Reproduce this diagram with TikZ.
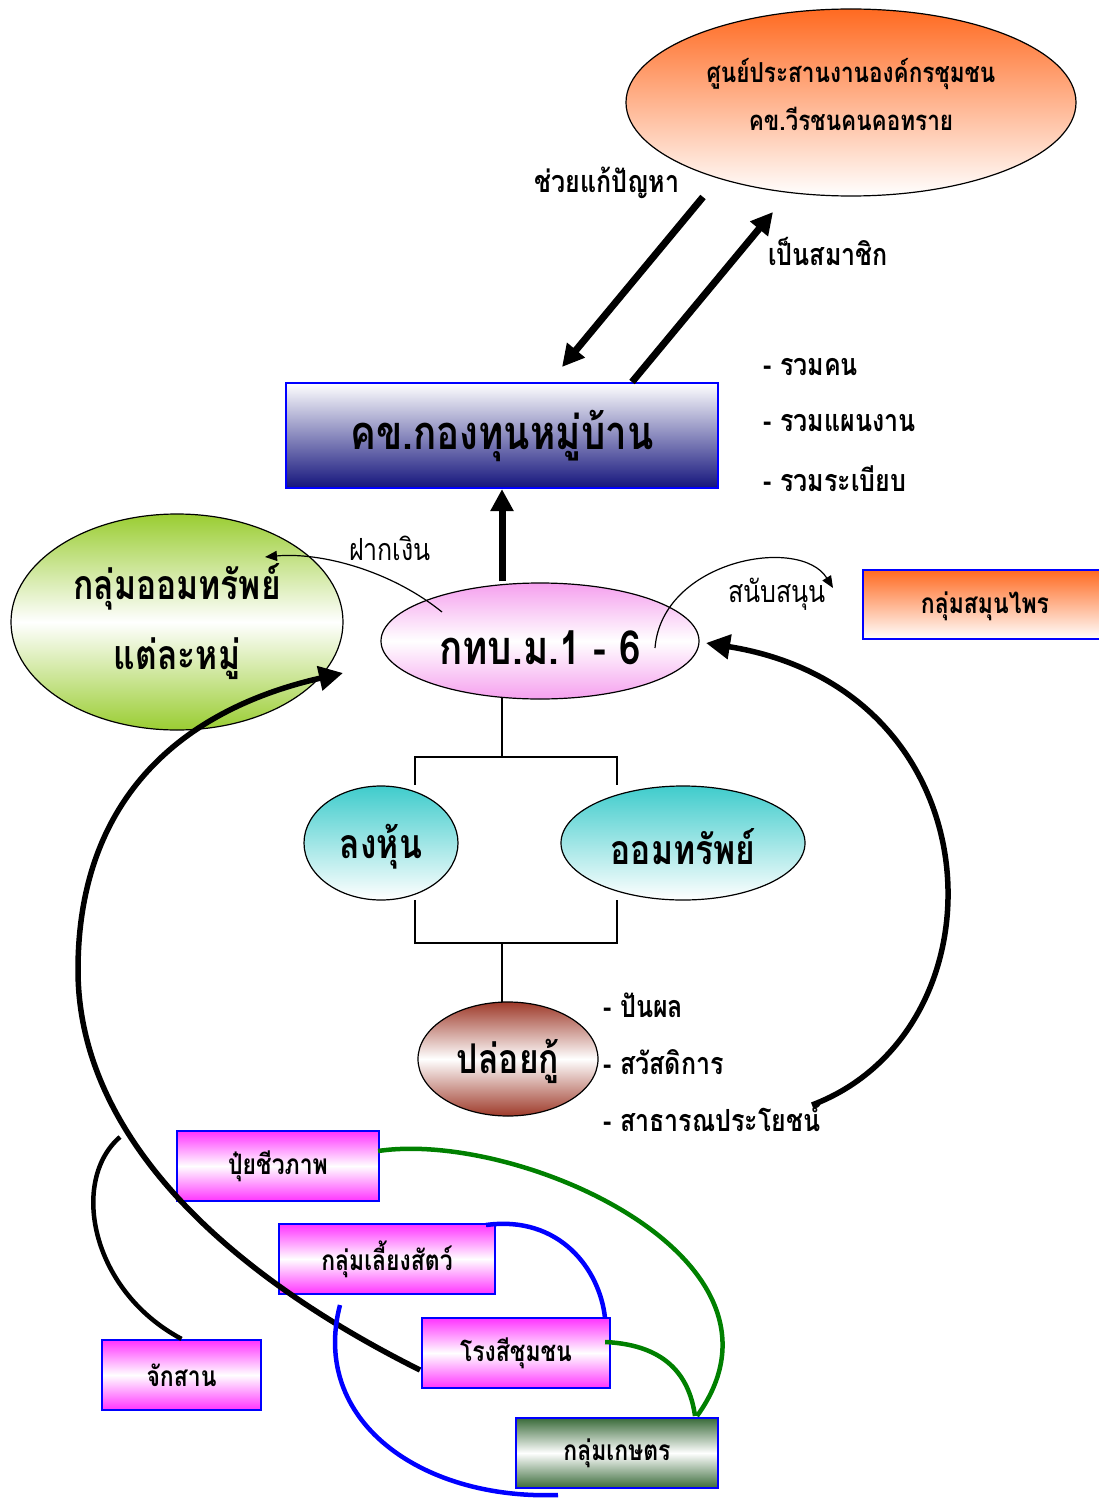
\documentclass[tikz,border=0pt]{standalone}
\usepackage{fontspec}
\usetikzlibrary{arrows.meta,shapes.geometric}
\newfontfamily\thai[Script=Thai,FakeStretch=0.82]{Loma}
\definecolor{orangetop}{HTML}{FF6A21}
\definecolor{navybot}{HTML}{14147C}
\definecolor{leaf}{HTML}{9ACD32}
\definecolor{pinkish}{HTML}{F5A0EE}
\definecolor{tealtop}{HTML}{40CCCC}
\definecolor{brownish}{HTML}{9E3A2A}
\definecolor{magentabox}{HTML}{FF33FF}
\definecolor{farmgreen}{HTML}{3A6B3A}
\definecolor{linkgreen}{HTML}{008000}
\newcommand{\thaisize}[2]{\thai\bfseries\fontsize{#1}{#2}\selectfont}
\tikzset{
  oval/.style={ellipse, draw=black, line width=1.2pt, inner sep=0pt, align=center},
  plate/.style={rectangle, draw=blue, line width=2.2pt, inner sep=0pt, align=center},
  bigtxt/.style={font=\thaisize{41}{48}},
  toptxt/.style={font=\thaisize{27.5}{48}, align=center},
  listtxt/.style={font=\thaisize{30.5}{36}},
  boxtxt/.style={font=\thaisize{28}{32}},
  plaintxt/.style={font=\thai\fontsize{30.5}{36}\selectfont},
  heavyarrow/.style={line width=7pt, -{Triangle[length=22pt,width=22pt]}},
  bendarrow/.style={line width=5.5pt, -{Triangle[length=24pt,width=24pt]}},
  finearrow/.style={line width=1.2pt, -{Triangle[length=12pt,width=10pt]}},
  treeline/.style={line width=1.3pt},
  magbox/.style={plate, top color=magentabox, bottom color=magentabox, middle color=white, boxtxt},
}
\begin{document}
\begin{tikzpicture}[x=1pt,y=-1pt]
\useasboundingbox (0,0) rectangle (1099,1498);

% upper organisation
\node[oval, minimum width=450pt, minimum height=187pt, top color=orangetop, bottom color=white] (center) at (851,102.5) {};
\node[toptxt] (centertxt) at (851,95) {ศูนย์ประสานงานองค์กรชุมชน\\คข.วีรชนคนคอทราย};
\node[plate, minimum width=432pt, minimum height=105pt, top color=white, bottom color=navybot, font=\thaisize{47}{54}] (fund) at (502,435.5) {คข.กองทุนหมู่บ้าน};

\coordinate (helpA) at (703,197);
\coordinate (helpB) at (562,367);
\coordinate (joinA) at (632,382);
\coordinate (joinB) at (773,212);
\draw[heavyarrow] (helpA) -- (helpB);
\draw[heavyarrow] (joinA) -- (joinB);
\node[listtxt] (helplbl) at (607,183) {ช่วยแก้ปัญหา};
\node[listtxt] (joinlbl) at (828,251) {เป็นสมาชิก};

\node[listtxt, anchor=west] (l1) at (760,367) {- รวมคน};
\node[listtxt, anchor=west] (l2) at (760,423) {- รวมแผนงาน};
\node[listtxt, anchor=west] (l3) at (760,479) {- รวมระเบียบ};

% village fund committee
\node[oval, minimum width=318pt, minimum height=116pt, top color=pinkish, bottom color=pinkish, middle color=white] (vfc) at (540,641) {};
\node[font=\thaisize{47}{54}] (vfctxt) at (540,648) {กทบ.ม.1 - 6};
\draw[heavyarrow] (vfc.north -| fund.south) ++(0,-1) -- (fund.south);

\node[oval, minimum width=332pt, minimum height=216pt, top color=leaf, bottom color=leaf, middle color=white, font=\thaisize{41}{70}] (savers) at (177,622) {กลุ่มออมทรัพย์\\แต่ละหมู่};

\node[plate, minimum width=250pt, minimum height=69pt, top color=orangetop, bottom color=white, boxtxt, anchor=west] (herb) at (862,604.5) {\hspace*{0pt}};
\node[boxtxt] (herblbl) at (985,606) {กลุ่มสมุนไพร};

\coordinate (depA) at (442,612);
\coordinate (depB) at (265,557);
\draw[finearrow] (depA) .. controls (390,570) and (320,552) .. (depB);
\node[plaintxt] (deplbl) at (390,548) {ฝากเงิน};

\coordinate (supA) at (655,648);
\coordinate (supB) at (833,588);
\draw[finearrow] (supA) .. controls (662,560) and (800,535) .. (supB);
\node[plaintxt] (suplbl) at (777,594) {สนับสนุน};

% shares, savings, loans
\node[oval, minimum width=154pt, minimum height=114pt, top color=tealtop, bottom color=white] (shares) at (381,843) {};
\node[bigtxt] (sharestxt) at (381,847) {ลงหุ้น};
\node[oval, minimum width=244pt, minimum height=114pt, top color=tealtop, bottom color=white] (saving) at (683,843) {};
\node[bigtxt] (savingtxt) at (683,847) {ออมทรัพย์};
\node[oval, minimum width=180pt, minimum height=114pt, top color=brownish, bottom color=brownish, middle color=white] (loan) at (508,1059) {};
\node[bigtxt] (loantxt) at (508,1061) {ปล่อยกู้};

\coordinate (forkT) at (502,757);
\coordinate (forkB) at (502,943);
\coordinate (vfcfoot) at (502,697);
\draw[treeline] (vfcfoot) -- (forkT);
\draw[treeline] (415,785) |- (forkT) -| (617,785);
\draw[treeline] (415,900) |- (forkB) -| (617,900);
\draw[treeline] (forkB) -- (502,1002);

\node[listtxt, anchor=west] (b1) at (600,1005) {- ปันผล};
\node[listtxt, anchor=west] (b2) at (600,1062) {- สวัสดิการ};
\node[listtxt, anchor=west] (b3) at (600,1118) {- สาธารณประโยชน์};

% community groups
\node[magbox, minimum width=202pt, minimum height=70pt] (fert) at (278,1166) {ปุ๋ยชีวภาพ};
\node[magbox, minimum width=216pt, minimum height=70pt] (live) at (387,1259) {กลุ่มเลี้ยงสัตว์};
\node[magbox, minimum width=188pt, minimum height=70pt] (mill) at (516,1353) {โรงสีชุมชน};
\node[magbox, minimum width=159pt, minimum height=70pt] (weave) at (181.5,1375) {จักสาน};
\node[plate, minimum width=202pt, minimum height=70pt, top color=farmgreen, bottom color=farmgreen, middle color=white, boxtxt] (farm) at (617,1453) {กลุ่มเกษตร};

% returns to the fund
\coordinate (retA) at (812,1105);
\draw[bendarrow] (retA) .. controls (1010,1030) and (1000,690) .. (706,643);
\coordinate (millW) at (420,1370);
\coordinate (bendL) at (78,970);
\draw[bendarrow] (millW) .. controls (200,1260) and (78,1120) .. (bendL) .. controls (78,800) and (180,710) .. (343,673);
\coordinate (twig) at (120,1137);
\draw[line width=4.5pt] (twig) .. controls (70,1180) and (90,1290) .. (weave.north);

% links among groups
\draw[linkgreen, line width=4.5pt] (fert.east) ++(-2,-15) .. controls (520,1130) and (810,1260) .. (697,1416);
\draw[linkgreen, line width=4.5pt] (mill.east) ++(-6,-11) .. controls (670,1345) and (690,1380) .. (695,1416);
\draw[blue, line width=4.5pt] (486,1225) .. controls (560,1215) and (600,1270) .. (605,1318);
\draw[blue, line width=4.5pt] (340,1305) .. controls (310,1420) and (420,1500) .. (558,1495);
\end{tikzpicture}
\end{document}
